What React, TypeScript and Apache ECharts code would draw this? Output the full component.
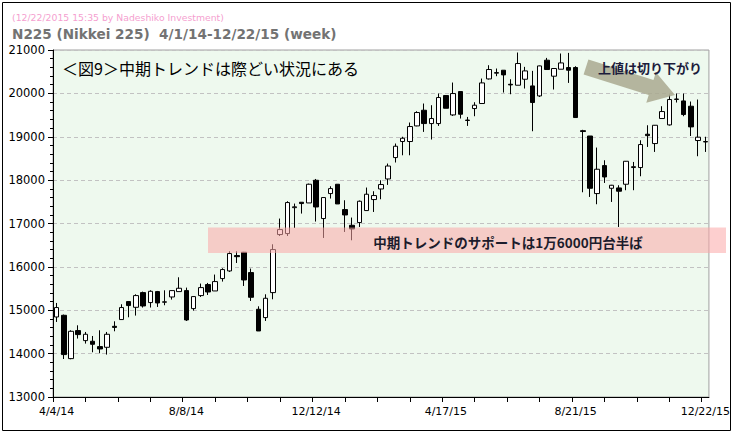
import React, { useEffect, useRef } from "react";
import * as echarts from "echarts";

const dates = [
  "4/4/14", "4/11/14", "4/18/14", "4/25/14", "5/2/14", "5/9/14", "5/16/14", "5/23/14", "5/30/14", "6/6/14",
  "6/13/14", "6/20/14", "6/27/14", "7/4/14", "7/11/14", "7/18/14", "7/25/14", "8/1/14", "8/8/14", "8/15/14",
  "8/22/14", "8/29/14", "9/5/14", "9/12/14", "9/19/14", "9/26/14", "10/3/14", "10/10/14", "10/17/14", "10/24/14",
  "10/31/14", "11/7/14", "11/14/14", "11/21/14", "11/28/14", "12/5/14", "12/12/14", "12/19/14", "12/26/14", "1/2/15",
  "1/9/15", "1/16/15", "1/23/15", "1/30/15", "2/6/15", "2/13/15", "2/20/15", "2/27/15", "3/6/15", "3/13/15",
  "3/20/15", "3/27/15", "4/3/15", "4/10/15", "4/17/15", "4/24/15", "5/1/15", "5/8/15", "5/15/15", "5/22/15",
  "5/29/15", "6/5/15", "6/12/15", "6/19/15", "6/26/15", "7/3/15", "7/10/15", "7/17/15", "7/24/15", "7/31/15",
  "8/7/15", "8/14/15", "8/21/15", "8/28/15", "9/4/15", "9/11/15", "9/18/15", "9/25/15", "10/2/15", "10/9/15",
  "10/16/15", "10/23/15", "10/30/15", "11/6/15", "11/13/15", "11/20/15", "11/27/15", "12/4/15", "12/11/15", "12/18/15",
  "12/22/15",
];

const opens = [
  14845, 14884, 13885, 14531, 14300, 14285, 14162, 14146, 14630, 14785,
  15200, 15068, 15407, 15177, 15430, 15185, 15306, 15430, 15453, 15038,
  15338, 15592, 15445, 15730, 15906, 16261, 16337, 15869, 15022, 14831,
  15407, 16745, 16768, 17365, 17490, 17474, 17997, 17114, 17690, 17905,
  17321, 16959, 17022, 17298, 17552, 17796, 18027, 18520, 18890, 18890,
  19250, 19611, 19304, 19304, 19950, 19503, 20042, 19375, 19650, 19766,
  20333, 20465, 20534, 20210, 20188, 20326, 20172, 19941, 20765, 20396,
  20557, 20596, 20596, 19140, 19017, 17690, 18335, 17812, 17820, 17905,
  18290, 18290, 19058, 18843, 19420, 19273, 19860, 19826, 19704, 18913,
  18880,
];

const closes = [
  15062, 13978, 14515, 14439, 14446, 14215, 14107, 14446, 14605, 15062,
  15108, 15338, 15099, 15437, 15168, 15195, 15453, 15507, 14776, 15315,
  15522, 15421, 15661, 15938, 16307, 16235, 15698, 15299, 14522, 15276,
  16399, 16860, 17483, 17385, 17460, 17905, 17381, 17598, 17805, 17451,
  17197, 16874, 17513, 17675, 17644, 17898, 18325, 18781, 18966, 19235,
  19558, 19304, 19420, 19904, 19657, 19996, 19519, 19385, 19727, 20241,
  20550, 20480, 20426, 20195, 20688, 20518, 19789, 20633, 20550, 20573,
  20702, 20534, 19443, 19120, 17812, 18251, 18073, 17882, 17744, 18435,
  18310, 18820, 19026, 19265, 19581, 19858, 19870, 19512, 19227, 18990,
  18890,
];

const lows = [
  14730, 13876, 13870, 14347, 14231, 14031, 14008, 13978, 14515, 14785,
  14838, 14877, 15062, 15062, 15076, 15115, 15246, 15430, 14753, 14992,
  15306, 15352, 15445, 15661, 15883, 16090, 15560, 15214, 14522, 14753,
  15253, 16713, 16713, 16897, 17229, 17474, 17045, 16667, 17575, 17451,
  16805, 16613, 16920, 17298, 17266, 17559, 17890, 18406, 18573, 18573,
  19242, 19112, 18936, 19250, 19657, 19480, 19420, 19250, 19473, 19766,
  20319, 20396, 20019, 19980, 20188, 20112, 19127, 19918, 20550, 20089,
  20557, 20241, 19443, 17720, 17612, 17444, 17935, 17497, 16920, 17767,
  17767, 18089, 18765, 18650, 19420, 19258, 19789, 19473, 19017, 18551,
  18650,
];

const highs = [
  15168, 14900, 14538, 14653, 14500, 14407, 14538, 14500, 14745, 15138,
  15200, 15368, 15430, 15460, 15445, 15460, 15460, 15760, 15522, 15320,
  15615, 15630, 15823, 15968, 16360, 16360, 16345, 15961, 15091, 15368,
  16521, 17114, 17513, 17460, 17490, 17920, 18027, 17598, 17859, 17905,
  17536, 17137, 17530, 17829, 17744, 17997, 18382, 18844, 19000, 19328,
  19588, 19766, 19727, 19996, 19960, 20250, 20042, 19457, 19796, 20342,
  20649, 20573, 20534, 20326, 20942, 20611, 20519, 20640, 20818, 20580,
  20919, 20933, 20626, 19160, 19017, 18751, 18458, 17890, 17882, 18440,
  18419, 18919, 19265, 19270, 19704, 19973, 19996, 19996, 19812, 19858,
  19000,
];

const labelIndices = [0, 18, 36, 54, 72, 90];
const yMin = 13000;
const yMax = 21000;
const yStep = 1000;

const headerStamp = "(12/22/2015 15:35 by Nadeshiko Investment)";
const headerTitle = "N225 (Nikkei 225)  4/1/14-12/22/15 (week)";
const noteTitle = "＜図9＞中期トレンドは際どい状況にある";
const noteArrow = "上値は切り下がり";
const noteBand = "中期トレンドのサポートは1万6000円台半ば";

export default function App() {
  const ref = useRef<HTMLDivElement>(null);

  useEffect(() => {
    if (!ref.current) return;
    const chart = echarts.init(ref.current, undefined, { renderer: "svg" });
    const candles = dates.map((_, i) => [opens[i], closes[i], lows[i], highs[i]]);
    const tickPos: number[] = [];
    for (let k = 0; k <= 20; k++) tickPos.push(k * 4.5);

    const option: any = {
      animation: false,
      backgroundColor: "#ffffff",
      textStyle: { fontFamily: "DejaVu Sans" },
      grid: {
        left: 53,
        right: 18,
        top: 50,
        bottom: 36,
        show: true,
        backgroundColor: "#eef9ee",
        borderColor: "#a0a0a0",
        borderWidth: 1,
      },
      xAxis: [
        {
          type: "category",
          data: dates,
          boundaryGap: true,
          axisLine: { show: true, lineStyle: { color: "#000", width: 1 } },
          axisTick: { show: false },
          splitLine: { show: false },
          axisLabel: {
            color: "#000",
            fontSize: 11,
            fontFamily: "DejaVu Sans",
            margin: 9,
            interval: (idx: number) => labelIndices.includes(idx),
          },
        },
        {
          type: "value",
          min: 0,
          max: dates.length,
          position: "bottom",
          axisLine: { show: false },
          axisLabel: { show: false },
          splitLine: { show: false },
          axisTick: {
            show: true,
            length: 5,
            lineStyle: { color: "#000" },
            customValues: tickPos,
          },
        },
      ],
      yAxis: {
        type: "value",
        min: yMin,
        max: yMax,
        interval: yStep,
        axisLine: { show: true, lineStyle: { color: "#000", width: 1 } },
        axisTick: { show: true, length: 5, lineStyle: { color: "#000" } },
        minorTick: { show: true, splitNumber: 5, length: 3, lineStyle: { color: "#000" } },
        axisLabel: {
          color: "#000",
          fontSize: 11.5,
          fontFamily: "DejaVu Sans",
          margin: 8,
          formatter: (v: number) => String(v),
        },
        splitLine: { show: true, lineStyle: { color: "#c2c2c2", type: [4, 3] } },
      },
      series: [
        {
          type: "candlestick",
          xAxisIndex: 0,
          data: candles,
          barWidth: 5,
          itemStyle: {
            color: "#ffffff",
            color0: "#000000",
            borderColor: "#000000",
            borderColor0: "#000000",
            borderWidth: 1,
          },
        },
      ],
      graphic: [
        {
          type: "text",
          x: 12,
          y: 17,
          z: 100,
          style: {
            text: headerStamp,
            fill: "#f59fd0",
            font: "9.3px 'DejaVu Sans'",
            verticalAlign: "middle",
          },
        },
        {
          type: "text",
          x: 12,
          y: 34,
          z: 100,
          style: {
            text: headerTitle,
            fill: "#737373",
            font: "bold 13.6px 'DejaVu Sans'",
            verticalAlign: "middle",
          },
        },
        {
          type: "text",
          x: 62,
          y: 68,
          z: 100,
          style: {
            text: noteTitle,
            fill: "#000",
            font: "16px 'Noto Sans CJK JP'",
            verticalAlign: "middle",
          },
        },
        {
          type: "polygon",
          z: 90,
          shape: {
            points: [
              [588.4, 59.4],
              [653.5, 79.9],
              [655.9, 72.2],
              [675, 95],
              [646.3, 102.8],
              [648.7, 95.1],
              [583.6, 74.6],
            ],
          },
          style: { fill: "#a9a98f", opacity: 0.85 },
        },
        {
          type: "text",
          x: 598,
          y: 67.5,
          z: 100,
          style: {
            text: noteArrow,
            fill: "#1c1c3c",
            font: "bold 13px 'Noto Sans CJK JP'",
            verticalAlign: "middle",
          },
        },
        {
          type: "rect",
          z: 90,
          shape: { x: 208, y: 227.5, width: 518, height: 25.5 },
          style: { fill: "rgba(252,168,168,0.55)" },
        },
        {
          type: "text",
          x: 508,
          y: 242,
          z: 100,
          style: {
            text: noteBand,
            fill: "#1c1c2c",
            font: "bold 13.5px 'Noto Sans CJK JP'",
            align: "center",
            verticalAlign: "middle",
          },
        },
        {
          type: "rect",
          z: 110,
          shape: { x: 731, y: 0, width: 2, height: 433 },
          style: { fill: "#ffffff" },
        },
        {
          type: "rect",
          z: 120,
          shape: { x: 2.5, y: 2.5, width: 728, height: 428 },
          style: { fill: "none", stroke: "#000", lineWidth: 1 },
        },
      ],
    };
    chart.setOption(option);
    return () => chart.dispose();
  }, []);

  return (
    <div
      ref={ref}
      style={{ position: "absolute", left: 0, top: 0, width: 733, height: 433 }}
    />
  );
}
